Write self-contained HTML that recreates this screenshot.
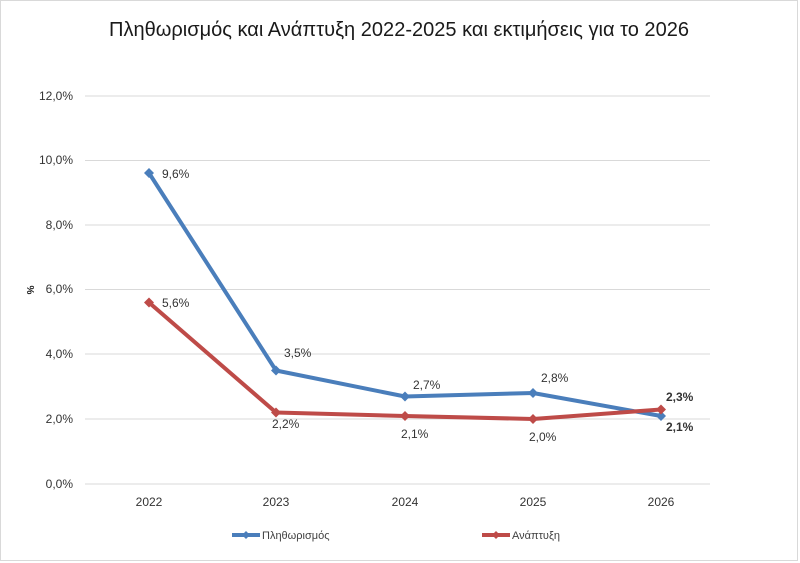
<!DOCTYPE html>
<html><head><meta charset="utf-8"><style>
body{margin:0;background:#fff}
svg{display:block;font-family:"Liberation Sans",sans-serif}
</style></head><body>
<svg width="800" height="563" viewBox="0 0 800 563">
<rect x="0.5" y="0.5" width="797" height="560" fill="#fff" stroke="#d9d9d9"/>
<text x="399" y="36" font-size="20" text-anchor="middle" fill="#1a1a1a" textLength="580" lengthAdjust="spacingAndGlyphs">Πληθωρισμός και Ανάπτυξη 2022-2025 και εκτιμήσεις για το 2026</text>
<g stroke="#d9d9d9" stroke-width="1">
<line x1="85" x2="710" y1="96" y2="96"/><line x1="85" x2="710" y1="160.5" y2="160.5"/>
<line x1="85" x2="710" y1="225" y2="225"/><line x1="85" x2="710" y1="289.5" y2="289.5"/>
<line x1="85" x2="710" y1="354" y2="354"/><line x1="85" x2="710" y1="419" y2="419"/>
<line x1="85" x2="710" y1="484" y2="484"/>
</g>
<g font-size="12" fill="#333" text-anchor="end">
<text x="73" y="100">12,0%</text><text x="73" y="164">10,0%</text><text x="73" y="229">8,0%</text>
<text x="73" y="293">6,0%</text><text x="73" y="358">4,0%</text><text x="73" y="423">2,0%</text><text x="73" y="488">0,0%</text>
</g>
<text x="27" y="290" font-size="10" font-weight="bold" fill="#222" transform="rotate(90 27 290)" text-anchor="middle">%</text>
<g font-size="12" fill="#333" text-anchor="middle">
<text x="149" y="506">2022</text><text x="276" y="506">2023</text><text x="405" y="506">2024</text><text x="533" y="506">2025</text><text x="661" y="506">2026</text>
</g>
<polyline points="149,173 276,370.5 405,396.5 533,393 661,416" fill="none" stroke="#4a7ebb" stroke-width="4" stroke-linejoin="round"/>
<polyline points="149,302.5 276,412.5 405,416 533,419 661,409.5" fill="none" stroke="#be4b48" stroke-width="4" stroke-linejoin="round"/>
<g fill="#4a7ebb"><path d="M149,168 l5,5 -5,5 -5,-5z"/><path d="M276,365.5 l5,5 -5,5 -5,-5z"/><path d="M405,391.5 l5,5 -5,5 -5,-5z"/><path d="M533,388 l5,5 -5,5 -5,-5z"/><path d="M661,411 l5,5 -5,5 -5,-5z"/></g>
<g fill="#be4b48"><path d="M149,297.5 l5,5 -5,5 -5,-5z"/><path d="M276,407.5 l5,5 -5,5 -5,-5z"/><path d="M405,411 l5,5 -5,5 -5,-5z"/><path d="M533,414 l5,5 -5,5 -5,-5z"/><path d="M661,404.5 l5,5 -5,5 -5,-5z"/></g>
<g font-size="12" fill="#333">
<text x="162" y="178">9,6%</text><text x="162" y="307">5,6%</text>
<text x="284" y="357">3,5%</text><text x="413" y="389">2,7%</text><text x="541" y="382">2,8%</text>
<text x="272" y="428">2,2%</text><text x="401" y="438">2,1%</text><text x="529" y="441">2,0%</text>
<text x="666" y="401" font-weight="bold">2,3%</text><text x="666" y="431" font-weight="bold">2,1%</text>
</g>
<line x1="232" x2="260" y1="535" y2="535" stroke="#4a7ebb" stroke-width="4"/><path d="M246,531 l4,4 -4,4 -4,-4z" fill="#4a7ebb"/>
<text x="262" y="539" font-size="11" fill="#404040">Πληθωρισμός</text>
<line x1="482" x2="510" y1="535" y2="535" stroke="#be4b48" stroke-width="4"/><path d="M496,531 l4,4 -4,4 -4,-4z" fill="#be4b48"/>
<text x="512" y="539" font-size="11" fill="#404040">Ανάπτυξη</text>
</svg>
</body></html>
